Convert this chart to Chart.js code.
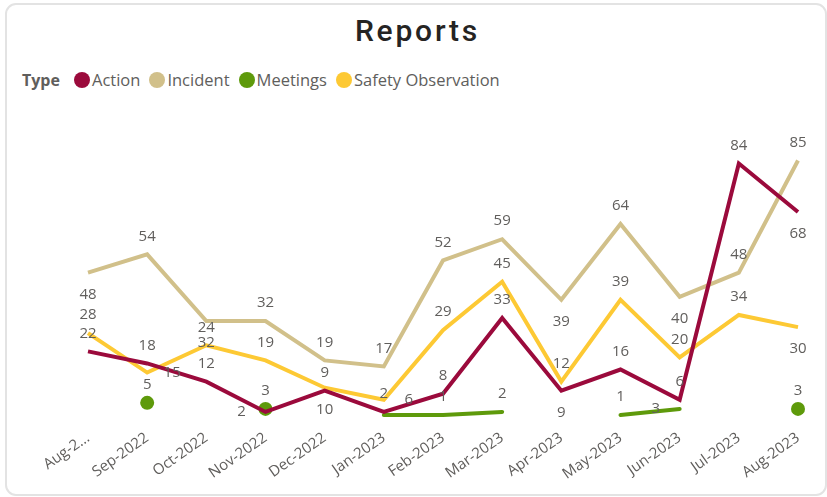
<!DOCTYPE html>
<html>
<head>
<meta charset="utf-8">
<script src="https://cdn.jsdelivr.net/npm/chart.js@4.4.1/dist/chart.umd.min.js"></script>
<style>
    body { margin: 0; background: #fff; font-family: 'Open Sans', sans-serif; }
    #card {
        position: absolute; left: 5px; top: 3px; width: 818px; height: 489px;
        border: 2px solid #e3e3e3; border-radius: 11px;
    }
    #title {
        position: absolute; left: 0; width: 835px; top: 13px; text-align: center;
        font-family: 'Roboto', sans-serif; font-weight: 500; font-size: 30px;
        letter-spacing: 2.8px; color: #252423;
    }
    #legend {
        position: absolute; left: 22px; top: 68px; display: flex; align-items: center;
        font-size: 16.5px; color: #605E5C; white-space: nowrap;
    }
    #legend b { color: #605E5C; margin-right: 14px; font-size: 16px; }
    .item { display: flex; align-items: center; margin-right: 9px; }
    .dot { width: 16px; height: 16px; border-radius: 50%; margin-right: 2px; }
    canvas { position: absolute; left: 0; top: 0; }
</style>
</head>
<body>
<div id="card"></div>
<div id="title">Reports</div>
<div id="legend"><b>Type</b></div>
<canvas id="reportsChart" width="827" height="497"></canvas>
<script>
// Data
const months = ['Aug-2022', 'Sep-2022', 'Oct-2022', 'Nov-2022', 'Dec-2022', 'Jan-2023', 'Feb-2023',
    'Mar-2023', 'Apr-2023', 'May-2023', 'Jun-2023', 'Jul-2023', 'Aug-2023'];
const action = [22, 18, 12, 2, 9, 2, 8, 33, 9, 16, 6, 84, 68];
const incident = [48, 54, 32, 32, 19, 17, 52, 59, 39, 64, 40, 48, 85];
const meetings = [null, 5, null, 3, null, 1, 1, 2, null, 1, 3, null, 3];
const safety = [28, 15, 24, 19, 10, 6, 29, 45, 12, 39, 20, 34, 30];

// where each value label sits around its point: a=above, b=below, l=left, r=right
const actionLabelPos = ['a', 'a', 'a', 'l', 'a', 'a', 'a', 'a', 'b', 'a', 'a', 'a', 'b'];
const incidentLabelPos = ['b', 'a', 'b', 'a', 'a', 'a', 'a', 'a', 'b', 'a', 'b', 'a', 'a'];
const meetingsLabelPos = [null, 'a', null, 'a', null, null, 'a', 'a', null, 'a', 'l', null, 'a'];
const safetyLabelPos = ['a', 'r', 'a', 'a', 'b', 'r', 'a', 'a', 'a', 'a', 'a', 'a', 'b'];

const colors = {
    action: '#9B0A3C',
    incident: '#D1C08A',
    meetings: '#5E9A0B',
    safety: '#FDC934'
};

function buildLegend(datasets) {
    const legend = document.getElementById('legend');
    datasets.forEach(ds => {
        const item = document.createElement('span');
        item.className = 'item';
        const dot = document.createElement('span');
        dot.className = 'dot';
        dot.style.background = ds.borderColor;
        item.appendChild(dot);
        item.appendChild(document.createTextNode(ds.label));
        legend.appendChild(item);
    });
}

// isolated points (no neighbours) are drawn as dots
function isolatedRadius(ctx) {
    const d = ctx.dataset.data;
    const i = ctx.dataIndex;
    if (d[i] == null) return 0;
    const prev = i > 0 ? d[i - 1] : null;
    const next = i < d.length - 1 ? d[i + 1] : null;
    return (prev == null && next == null) ? 7 : 0;
}

const valueLabels = {
    id: 'valueLabels',
    afterDatasetsDraw(chart) {
        const c = chart.ctx;
        c.save();
        c.font = '15px "Open Sans", sans-serif';
        c.fillStyle = '#605E5C';
        c.textAlign = 'center';
        c.textBaseline = 'middle';
        chart.data.datasets.forEach((ds, di) => {
            const meta = chart.getDatasetMeta(di);
            meta.data.forEach((pt, i) => {
                const v = ds.data[i];
                const pos = ds.labelPos[i];
                if (v == null || !pos) return;
                let dx = 0, dy = 0;
                if (pos === 'a') dy = -18;
                if (pos === 'b') dy = 22;
                if (pos === 'l') dx = -24;
                if (pos === 'r') dx = 25;
                c.fillText(v, pt.x + dx, pt.y + dy);
            });
        });
        c.restore();
    }
};

const lineBase = {
    borderWidth: 4,
    pointRadius: 0,
    pointHoverRadius: 0,
    tension: 0,
    spanGaps: false,
    fill: false
};

const datasets = [
    { ...lineBase, label: 'Action', data: action, labelPos: actionLabelPos,
      borderColor: colors.action, backgroundColor: colors.action },
    { ...lineBase, label: 'Incident', data: incident, labelPos: incidentLabelPos,
      borderColor: colors.incident, backgroundColor: colors.incident },
    { ...lineBase, label: 'Meetings', data: meetings, labelPos: meetingsLabelPos,
      borderColor: colors.meetings, backgroundColor: colors.meetings,
      pointRadius: isolatedRadius, pointBorderWidth: 0, borderCapStyle: 'round' },
    { ...lineBase, label: 'Safety Observation', data: safety, labelPos: safetyLabelPos,
      borderColor: colors.safety, backgroundColor: colors.safety }
];

buildLegend(datasets);

new Chart(document.getElementById('reportsChart'), {
    type: 'line',
    data: { labels: months, datasets: datasets },
    options: {
        responsive: false,
        animation: false,
        layout: { padding: { left: 88, right: 29, top: 115, bottom: 2 } },
        plugins: {
            legend: { display: false },
            tooltip: { enabled: false }
        },
        scales: {
            x: {
                grid: { display: false },
                border: { display: false },
                ticks: {
                    autoSkip: false,
                    minRotation: 35,
                    maxRotation: 35,
                    color: '#605E5C',
                    font: { family: 'Open Sans', size: 15 },
                    callback: function(value, index) {
                        return index === 0 ? 'Aug-2...' : this.getLabelForValue(value);
                    }
                },
                afterFit: function(scale) {
                    scale.height = 77;
                    scale.paddingLeft = 0;
                    scale.paddingRight = 0;
                }
            },
            y: {
                display: false,
                min: 0,
                max: 100
            }
        }
    },
    plugins: [valueLabels]
});
</script>
</body>
</html>
